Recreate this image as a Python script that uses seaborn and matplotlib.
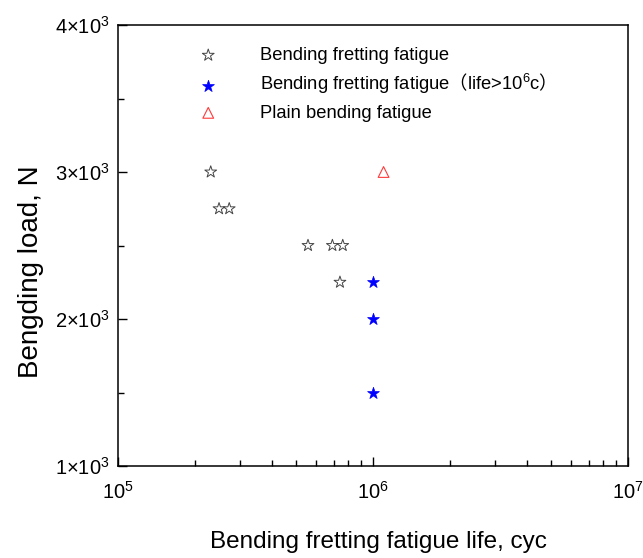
import matplotlib
matplotlib.use("Agg")
import matplotlib.pyplot as plt
import seaborn as sns
from matplotlib.ticker import FixedLocator, FixedFormatter, LogLocator, NullFormatter, MultipleLocator

# ---- data ----
fretting_life = [2.31e5, 2.49e5, 2.73e5, 5.56e5, 6.93e5, 7.61e5, 7.42e5]
fretting_load = [3000, 2750, 2750, 2500, 2500, 2500, 2250]
runout_life = [1.0e6, 1.0e6, 1.0e6]
runout_load = [2250, 2000, 1500]
plain_life = [1.10e6]
plain_load = [3000]

series_labels = ["Bending fretting fatigue",
                 "Bending fretting fatigue$\\mathsf{\uff08}$life>10$^{6}$c$\\mathsf{\uff09}$",
                 "Plain bending fatigue"]
x_ticks = [1e5, 1e6, 1e7]
x_tick_labels = [r"10$^{5}$", r"10$^{6}$", r"10$^{7}$"]
y_ticks = [1000, 2000, 3000, 4000]
y_tick_labels = [r"1×10$^{3}$", r"2×10$^{3}$", r"3×10$^{3}$", r"4×10$^{3}$"]
x_label = "Bending fretting fatigue life, cyc"
y_label = "Bengding load, N"

sns.set_theme(style="ticks")
plt.rcParams['font.family'] = ['Liberation Sans', 'DejaVu Sans', 'Noto Sans CJK SC']
plt.rcParams['mathtext.fontset'] = 'custom'
plt.rcParams['mathtext.rm'] = 'Liberation Sans'
plt.rcParams['mathtext.it'] = 'Liberation Sans:italic'
plt.rcParams['mathtext.bf'] = 'Liberation Sans:bold'
plt.rcParams['mathtext.sf'] = 'Noto Sans CJK SC'
plt.rcParams['mathtext.default'] = 'regular'

fig = plt.figure(figsize=(6.43, 5.58), dpi=100)
ax = fig.add_axes([118 / 643, 1 - 466 / 558, 510 / 643, 441 / 558])

sns.scatterplot(x=fretting_life, y=fretting_load, ax=ax, marker='*', s=80,
                facecolor='none', edgecolor='#444444', linewidth=0.7,
                label=series_labels[0])
sns.scatterplot(x=runout_life, y=runout_load, ax=ax, marker='*', s=80,
                facecolor='#0000ff', edgecolor='#0000ff', linewidth=0.5,
                label=series_labels[1])
sns.scatterplot(x=plain_life, y=plain_load, ax=ax, marker='^', s=60,
                facecolor='none', edgecolor='#ff3a3a', linewidth=0.8,
                label=series_labels[2])

ax.set_xscale('log')
ax.set_xlim(1e5, 1e7)
ax.set_ylim(1000, 4000)

ax.xaxis.set_major_locator(FixedLocator(x_ticks))
ax.xaxis.set_major_formatter(FixedFormatter(x_tick_labels))
ax.xaxis.set_minor_locator(LogLocator(base=10, subs=range(2, 10)))
ax.xaxis.set_minor_formatter(NullFormatter())
ax.yaxis.set_major_locator(FixedLocator(y_ticks))
ax.yaxis.set_major_formatter(FixedFormatter(y_tick_labels))
ax.yaxis.set_minor_locator(MultipleLocator(500))

ax.tick_params(which='both', direction='in', top=False, right=False,
               color='black', width=1.0, labelcolor='black', labelsize=14.5)
ax.tick_params(which='major', length=6.5)
ax.tick_params(which='minor', length=4)
ax.tick_params(axis='x', which='major', pad=11)
ax.tick_params(axis='y', which='major', pad=6)

for sp in ax.spines.values():
    sp.set_visible(True)
    sp.set_color('black')
    sp.set_linewidth(1.1)

ax.set_xlabel(x_label, fontsize=17.5, color='black')
ax.set_ylabel(y_label, fontsize=20, color='black')
ax.xaxis.set_label_coords(0.51, -0.148)
ax.yaxis.set_label_coords(-0.145, 0.44)

leg = ax.legend(loc='upper left', bbox_to_anchor=(0.141, 0.95), frameon=False,
                fontsize=13.2, handlelength=2.0, handletextpad=1.8,
                labelspacing=0.45, borderpad=0, borderaxespad=0)
for t in leg.get_texts():
    t.set_color('black')

fig.savefig("out.png", dpi=100, facecolor='white')
